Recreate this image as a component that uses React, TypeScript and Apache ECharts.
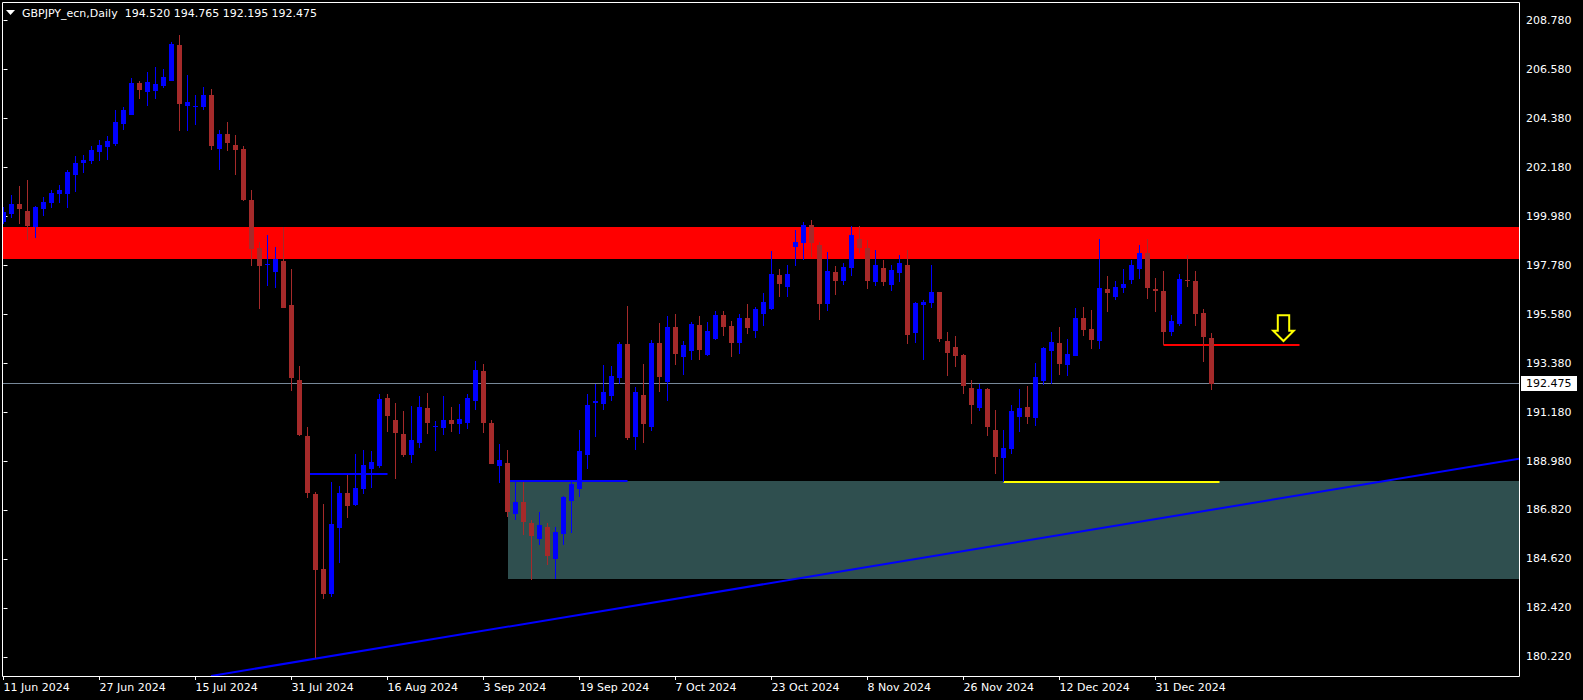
import React, { useEffect, useRef } from "react";
import * as echarts from "echarts";

// ---- Daily OHLC, bar index 0 = 11 Jun 2024 ----
const openP = [
  199.726, 200.085, 200.533, 200.219, 199.517, 200.324, 200.593, 200.982, 200.982, 201.848,
  202.387, 202.476, 202.865, 203.104, 203.224, 204.121, 204.539, 205.959, 205.556, 205.615,
  205.825, 206.064, 207.663, 204.928, 204.898, 204.883, 205.421, 203.014, 203.672, 203.179,
  202.999, 200.712, 198.575, 197.798, 197.499, 197.977, 196.004, 192.641, 190.129, 187.529,
  184.165, 183.059, 186.019, 187.573, 187.035, 187.753, 188.650, 188.799, 191.834, 190.847,
  190.219, 189.278, 189.831, 191.386, 190.519, 190.504, 190.848, 190.683, 190.713, 191.700,
  193.045, 190.713, 188.785, 188.919, 186.647, 187.170, 186.229, 185.511, 186.049, 184.614,
  185.735, 187.215, 187.753, 189.278, 191.610, 191.580, 191.939, 192.746, 194.256, 190.085,
  191.969, 190.534, 194.300, 192.552, 195.018, 193.673, 193.942, 195.108, 193.762, 194.480,
  195.556, 195.063, 194.300, 195.422, 194.839, 195.601, 195.825, 197.350, 196.812, 198.605,
  198.785, 199.591, 198.694, 196.049, 197.484, 197.080, 197.663, 198.964, 198.560, 197.035,
  197.663, 196.901, 197.439, 197.798, 194.748, 196.004, 196.094, 196.587, 194.390, 194.121,
  193.762, 192.282, 191.385, 192.237, 190.399, 189.143, 189.546, 190.981, 191.430, 190.937,
  192.596, 193.941, 194.300, 193.313, 193.717, 195.421, 194.928, 194.389, 196.721, 196.363,
  196.766, 197.125, 197.618, 198.336, 196.721, 196.632, 194.793, 195.152, 197.125, 197.080,
  195.645, 194.520,
];
const highP = [
  200.414, 200.937, 201.340, 201.609, 200.444, 200.847, 201.146, 201.385, 202.043, 202.686,
  202.730, 203.134, 203.403, 203.582, 204.748, 204.898, 206.183, 206.064, 206.452, 206.677,
  206.587, 207.798, 208.112, 206.318, 205.421, 205.780, 205.690, 203.837, 204.210, 203.627,
  203.134, 201.161, 198.814, 199.143, 198.605, 199.487, 197.618, 193.268, 190.518, 187.633,
  187.080, 188.067, 187.887, 188.381, 189.322, 189.502, 189.442, 192.013, 192.013, 191.609,
  191.251, 191.490, 191.924, 192.058, 190.803, 191.924, 191.431, 191.565, 192.013, 193.493,
  193.359, 190.848, 189.771, 189.502, 188.067, 188.067, 186.363, 186.722, 186.229, 186.049,
  187.440, 188.067, 190.399, 192.013, 192.462, 193.314, 193.269, 194.345, 195.960, 192.327,
  193.359, 194.435, 195.197, 195.511, 195.601, 194.390, 195.242, 195.511, 195.242, 195.735,
  195.735, 195.287, 195.601, 196.049, 195.915, 196.543, 198.426, 197.619, 197.798, 199.368,
  199.726, 199.816, 198.844, 198.381, 197.753, 197.887, 199.547, 199.547, 198.919, 198.470,
  198.022, 197.798, 198.246, 198.470, 196.139, 196.228, 197.798, 196.600, 194.793, 194.614,
  193.807, 192.641, 192.461, 192.282, 191.295, 190.398, 191.519, 192.237, 192.371, 193.403,
  194.120, 194.793, 195.017, 194.479, 195.869, 195.914, 195.780, 198.963, 197.304, 197.080,
  197.618, 198.022, 198.694, 198.963, 197.215, 197.528, 195.555, 197.394, 198.246, 197.528,
  195.824, 194.765,
];
const lowP = [
  199.621, 199.920, 199.636, 198.919, 199.023, 200.010, 200.369, 200.593, 200.369, 201.086,
  201.938, 202.327, 202.461, 202.506, 203.134, 203.851, 204.524, 205.242, 204.943, 205.242,
  205.735, 206.049, 203.807, 203.807, 204.076, 204.748, 202.955, 202.058, 202.910, 201.834,
  200.680, 197.768, 195.839, 196.871, 196.781, 195.850, 192.147, 190.144, 187.364, 180.159,
  182.805, 182.925, 184.449, 186.467, 187.005, 187.529, 187.813, 188.709, 190.324, 188.216,
  189.203, 188.919, 189.607, 190.235, 189.472, 190.175, 190.309, 190.220, 190.444, 191.296,
  190.265, 188.860, 188.022, 186.498, 186.378, 185.691, 183.673, 185.242, 184.345, 183.718,
  185.242, 185.780, 187.395, 188.650, 190.100, 191.296, 191.700, 192.477, 189.951, 189.502,
  189.816, 190.354, 192.103, 191.700, 193.314, 192.865, 193.538, 193.538, 193.730, 194.450,
  194.614, 193.673, 193.807, 194.704, 194.525, 195.063, 195.800, 196.363, 196.363, 197.753,
  198.000, 198.171, 195.331, 195.735, 196.452, 196.901, 197.304, 198.336, 196.721, 196.856,
  196.856, 196.632, 197.035, 194.255, 194.300, 193.538, 195.869, 194.345, 192.820, 193.224,
  192.013, 190.668, 191.251, 190.129, 188.425, 188.080, 189.322, 190.309, 190.667, 190.578,
  192.416, 192.461, 192.865, 192.820, 193.700, 194.614, 194.031, 194.031, 195.690, 196.228,
  196.542, 196.945, 197.170, 196.273, 195.690, 194.210, 194.614, 195.062, 196.811, 195.062,
  193.448, 192.195,
];
const closeP = [
  200.174, 200.518, 200.324, 199.547, 200.399, 200.608, 201.026, 201.161, 201.968, 202.387,
  202.506, 202.955, 203.179, 203.358, 204.210, 204.748, 205.959, 205.645, 206.004, 205.914,
  206.243, 207.708, 205.032, 205.107, 204.928, 205.421, 203.134, 203.672, 203.283, 202.970,
  200.712, 198.530, 197.768, 197.857, 198.052, 195.884, 192.745, 190.174, 187.588, 184.135,
  183.059, 186.183, 187.573, 187.005, 187.813, 188.829, 188.964, 191.789, 191.041, 190.279,
  189.292, 189.951, 191.416, 190.728, 190.564, 190.848, 190.683, 190.892, 191.834, 193.090,
  190.713, 188.874, 189.054, 186.722, 187.170, 186.289, 185.661, 186.139, 184.764, 185.825,
  187.395, 187.978, 189.457, 191.520, 191.700, 192.103, 192.821, 194.256, 190.040, 192.103,
  190.668, 194.300, 192.776, 195.018, 193.807, 194.211, 195.152, 193.987, 194.839, 195.556,
  195.018, 194.300, 195.422, 194.973, 195.825, 196.139, 197.395, 196.946, 197.395, 198.830,
  199.592, 198.784, 196.049, 197.529, 197.080, 197.708, 199.143, 198.560, 197.080, 197.798,
  197.035, 197.573, 197.887, 194.659, 196.094, 196.139, 196.587, 194.479, 193.851, 193.717,
  192.387, 191.520, 192.237, 190.533, 189.188, 189.591, 191.250, 191.385, 190.981, 192.775,
  194.076, 194.345, 193.358, 193.806, 195.421, 194.883, 194.434, 196.766, 196.542, 196.811,
  196.945, 197.797, 198.336, 196.766, 196.632, 194.793, 195.286, 197.170, 197.080, 195.600,
  194.569, 192.475,
];

// ---- axes ----
const xTickIndex = [0, 12, 24, 36, 48, 60, 72, 84, 96, 108, 120, 132, 144];
const xTickLabels = [
  "11 Jun 2024", "27 Jun 2024", "15 Jul 2024", "31 Jul 2024", "16 Aug 2024", "3 Sep 2024",
  "19 Sep 2024", "7 Oct 2024", "23 Oct 2024", "8 Nov 2024", "26 Nov 2024", "12 Dec 2024", "31 Dec 2024",
];
const yTickValues = [
  208.78, 206.58, 204.38, 202.18, 199.98, 197.78, 195.58, 193.38, 191.18, 188.98, 186.82, 184.62, 182.42, 180.22,
];

const X_MIN = -0.1875;
const X_MAX = 189.4375;
const Y_MAX = 209.5917;
const Y_MIN = 179.3675;

// ---- drawn objects ----
const zoneFrom = [X_MIN, 63];
const zoneTo = [X_MAX, X_MAX];
const zoneTop = [199.51, 188.12];
const zoneBottom = [198.05, 183.72];
const zoneColors = ["#FF0000", "#2F4F4F"];

const levelFrom = [38, 63, 125, 145];
const levelTo = [48, 78, 152, 162];
const levelPrice = [188.435, 188.12, 188.08, 194.22];
const levelColors = ["#0000FF", "#0000FF", "#FFFF00", "#FF0000"];

const trendStart = [25.94, 179.367];
const trendEnd = [189.44, 189.112];

const bidPrice = 192.475;
const arrowAt = [160, 195.543];

const BULL = "#0000FF";
const BEAR = "#A52A2A";
const FONT = "DejaVu Sans";

export default function App() {
  const ref = useRef<HTMLDivElement>(null);

  useEffect(() => {
    document.body.style.margin = "0";
    document.body.style.background = "#000";
    const chart = echarts.init(ref.current!, undefined, { renderer: "svg" });

    const candleData = openP.map((o, i) => [i, o, closeP[i], lowP[i], highP[i]]);

    const option: any = {
      animation: false,
      backgroundColor: "#000000",
      grid: { left: 2, top: 2, width: 1517, height: 674, containLabel: false },
      xAxis: {
        type: "value",
        min: X_MIN,
        max: X_MAX,
        axisLine: { show: false },
        splitLine: { show: false },
        axisTick: {
          show: true,
          customValues: xTickIndex,
          length: 4,
          lineStyle: { color: "#FFFFFF", width: 1 },
        },
        axisLabel: {
          show: true,
          customValues: xTickIndex,
          color: "#FFFFFF",
          fontFamily: FONT,
          fontSize: 11,
          align: "left",
          margin: 6,
          formatter: (v: number) => {
            const k = xTickIndex.indexOf(Math.round(v));
            return k >= 0 ? xTickLabels[k] : "";
          },
        },
      },
      yAxis: {
        type: "value",
        position: "right",
        min: Y_MIN,
        max: Y_MAX,
        scale: true,
        axisLine: { show: false },
        splitLine: { show: false },
        axisTick: {
          show: true,
          customValues: yTickValues,
          length: 4,
          lineStyle: { color: "#FFFFFF", width: 1 },
        },
        axisLabel: {
          show: true,
          customValues: yTickValues,
          color: "#FFFFFF",
          fontFamily: FONT,
          fontSize: 11,
          margin: 7,
          formatter: (v: number) => v.toFixed(3),
        },
      },
      graphic: [
        {
          type: "rect",
          shape: { x: 2.5, y: 2.5, width: 1517, height: 674 },
          style: { fill: "none", stroke: "#FFFFFF", lineWidth: 1 },
          z: 100,
          silent: true,
        },
        {
          type: "polygon",
          shape: { points: [[6, 10], [15, 10], [10.5, 15]] },
          style: { fill: "#FFFFFF" },
          z: 100,
        },
        {
          type: "text",
          x: 22,
          y: 13,
          style: {
            text: "GBPJPY_ecn,Daily  194.520 194.765 192.195 192.475",
            fill: "#FFFFFF",
            font: `11px "${FONT}"`,
            verticalAlign: "middle",
          },
          z: 100,
        },
      ],
      series: [
        {
          type: "custom",
          name: "zones",
          clip: true,
          data: zoneFrom.map((f, i) => [f, zoneTop[i], zoneTo[i], zoneBottom[i]]),
          encode: { x: [0, 2], y: [1, 3] },
          renderItem: (params: any, api: any) => {
            const i = params.dataIndex;
            const a = api.coord([zoneFrom[i], zoneTop[i]]);
            const b = api.coord([zoneTo[i], zoneBottom[i]]);
            const y0 = Math.round(a[1]);
            const y1 = Math.round(b[1]);
            return {
              type: "rect",
              shape: { x: Math.round(a[0]), y: y0, width: b[0] - a[0], height: y1 - y0 },
              style: { fill: zoneColors[i] },
            };
          },
        },
        {
          type: "custom",
          name: "bid",
          clip: false,
          data: [[X_MIN, bidPrice]],
          renderItem: (params: any, api: any) => {
            const a = api.coord([X_MIN, bidPrice]);
            const b = api.coord([X_MAX, bidPrice]);
            const y = Math.floor(a[1]) + 0.5;
            return {
              type: "group",
              children: [
                {
                  type: "line",
                  shape: { x1: a[0], y1: y, x2: b[0], y2: y },
                  style: { stroke: "#778899", lineWidth: 1 },
                },
                {
                  type: "rect",
                  shape: { x: b[0] + 2, y: y - 7.5, width: 56, height: 15 },
                  style: { fill: "#FFFFFF" },
                },
                {
                  type: "text",
                  x: b[0] + 7,
                  y: y,
                  style: {
                    text: bidPrice.toFixed(3),
                    fill: "#000000",
                    font: `11px "${FONT}"`,
                    verticalAlign: "middle",
                  },
                },
              ],
            };
          },
        },
        {
          type: "custom",
          name: "levels",
          clip: true,
          data: levelFrom.map((f, i) => [f, levelPrice[i], levelTo[i]]),
          encode: { x: [0, 2], y: 1 },
          renderItem: (params: any, api: any) => {
            const i = params.dataIndex;
            const a = api.coord([levelFrom[i], levelPrice[i]]);
            const b = api.coord([levelTo[i], levelPrice[i]]);
            const y = Math.round(a[1]);
            return {
              type: "line",
              shape: { x1: a[0], y1: y, x2: b[0], y2: y },
              style: { stroke: levelColors[i], lineWidth: 2 },
            };
          },
        },
        {
          type: "custom",
          name: "trend",
          clip: true,
          data: [[trendStart[0], trendStart[1], trendEnd[0], trendEnd[1]]],
          encode: { x: [0, 2], y: [1, 3] },
          renderItem: (params: any, api: any) => {
            const a = api.coord(trendStart);
            const b = api.coord(trendEnd);
            return {
              type: "line",
              shape: { x1: a[0], y1: a[1], x2: b[0], y2: b[1] },
              style: { stroke: "#0000FF", lineWidth: 2 },
            };
          },
        },
        {
          type: "custom",
          name: "GBPJPY",
          clip: true,
          data: candleData,
          encode: { x: 0, y: [1, 2, 3, 4] },
          renderItem: (params: any, api: any) => {
            const i = api.value(0);
            const o = api.value(1);
            const c = api.value(2);
            const l = api.value(3);
            const h = api.value(4);
            const po = api.coord([i, o]);
            const pc = api.coord([i, c]);
            const pl = api.coord([i, l]);
            const ph = api.coord([i, h]);
            const x = po[0];
            const color = c >= o ? BULL : BEAR;
            let top = Math.round(Math.min(po[1], pc[1]));
            let bot = Math.round(Math.max(po[1], pc[1]));
            if (bot - top < 1) bot = top + 1;
            return {
              type: "group",
              children: [
                {
                  type: "line",
                  shape: { x1: x, y1: Math.round(ph[1]), x2: x, y2: Math.round(pl[1]) },
                  style: { stroke: color, lineWidth: 1 },
                },
                {
                  type: "rect",
                  shape: { x: x - 2.5, y: top, width: 5, height: bot - top },
                  style: { fill: color },
                },
              ],
            };
          },
        },
        {
          type: "custom",
          name: "arrow",
          clip: false,
          data: [arrowAt],
          renderItem: (params: any, api: any) => {
            const p = api.coord(arrowAt);
            const cx = p[0];
            const cy = p[1];
            const pts = [
              [cx - 5.7, cy],
              [cx + 5.7, cy],
              [cx + 5.7, cy + 15.4],
              [cx + 10.3, cy + 15.4],
              [cx, cy + 25.7],
              [cx - 10.3, cy + 15.4],
              [cx - 5.7, cy + 15.4],
            ];
            return {
              type: "polygon",
              shape: { points: pts },
              style: { fill: "none", stroke: "#FFFF00", lineWidth: 2, lineJoin: "miter" },
            };
          },
        },
      ],
    };

    chart.setOption(option);
    return () => chart.dispose();
  }, []);

  return (
    <div
      ref={ref}
      style={{ position: "absolute", left: 0, top: 0, width: 1583, height: 700, background: "#000" }}
    />
  );
}
